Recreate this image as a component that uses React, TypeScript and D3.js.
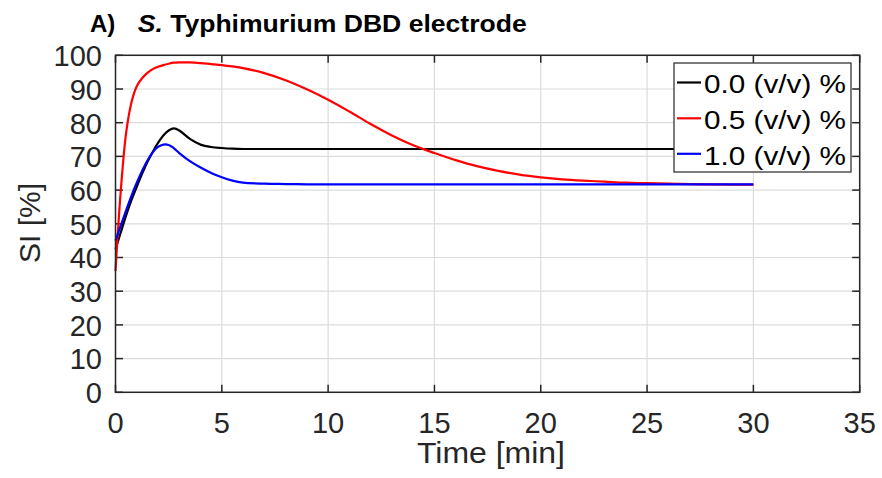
import React, { useEffect } from "react";
import * as d3 from "d3";

const times = [0, 0.25, 0.5, 0.75, 1, 1.25, 1.5, 1.75, 2, 2.25, 2.5, 2.75, 3, 3.5, 4, 4.5, 5, 5.5, 6, 7, 8, 9, 10, 11, 12, 13, 14, 15, 16, 17, 18, 19, 20, 21, 22, 23, 24, 25, 26, 27, 28, 29, 30];

const series00 = [42.5, 47.5, 52.5, 57, 61, 64.8, 68.3, 71.3, 74, 76.2, 77.7, 78.3, 77.7, 75.2, 73.5, 72.8, 72.5, 72.3, 72.2, 72.2, 72.2, 72.2, 72.2, 72.2, 72.2, 72.2, 72.2, 72.2, 72.2, 72.2, 72.2, 72.2, 72.2, 72.2, 72.2, 72.2, 72.2, 72.2, 72.2, 72.2, 72.2, 72.2, 72.2];
const series05 = [36, 60, 77, 86, 90.8, 93.2, 94.8, 95.9, 96.6, 97.1, 97.5, 97.8, 97.9, 97.9, 97.7, 97.4, 97.1, 96.7, 96.2, 94.7, 92.6, 89.9, 86.8, 83.3, 79.6, 76.2, 73.3, 71.0, 68.9, 67.1, 65.7, 64.6, 63.8, 63.2, 62.8, 62.5, 62.2, 62.05, 61.9, 61.8, 61.7, 61.65, 61.6];
const series10 = [45, 49.5, 54, 58.3, 62.2, 65.7, 68.8, 71.2, 72.8, 73.5, 73.4, 72.4, 71.0, 68.6, 66.7, 65.1, 63.8, 62.8, 62.2, 61.9, 61.8, 61.7, 61.7, 61.7, 61.7, 61.7, 61.7, 61.7, 61.7, 61.7, 61.7, 61.7, 61.7, 61.7, 61.7, 61.7, 61.7, 61.7, 61.7, 61.7, 61.7, 61.7, 61.7];

const seriesNames = ["0.0 (v/v) %", "0.5 (v/v) %", "1.0 (v/v) %"];
const seriesColors = ["#000000", "#ff0000", "#0000ff"];
const xTicks = [0, 5, 10, 15, 20, 25, 30, 35];
const yTicks = [0, 10, 20, 30, 40, 50, 60, 70, 80, 90, 100];

const W = 882;
const H = 478;
const L = 115.5, R = 859.7, T = 55.3, B = 392.3;
const AX = "#262626";
const FONT = "'Liberation Sans', Arial, Helvetica, sans-serif";

export default function App() {
  useEffect(() => {
    document.body.style.margin = "0";
  }, []);

  const x = d3.scaleLinear().domain([0, 35]).range([L, R]);
  const y = d3.scaleLinear().domain([0, 100]).range([B, T]);
  const allSeries = [series00, series05, series10];
  const line = d3
    .line<number>()
    .x((_, i) => x(times[i]))
    .y((d) => y(d))
    .curve(d3.curveCatmullRom.alpha(0.5));

  const legendX = 674, legendY = 63, legendW = 177, legendH = 109;
  const rowY = [82.5, 118.3, 153.8];

  return (
    <svg width={W} height={H} style={{ display: "block", background: "#fff" }} fontFamily={FONT}>
      <rect x={0} y={0} width={W} height={H} fill="#fff" />
      {/* grid */}
      {xTicks.map((t) => (
        <line key={"gx" + t} x1={x(t)} x2={x(t)} y1={T} y2={B} stroke="#dcdcdc" strokeWidth={1.2} />
      ))}
      {yTicks.map((t) => (
        <line key={"gy" + t} x1={L} x2={R} y1={y(t)} y2={y(t)} stroke="#dcdcdc" strokeWidth={1.2} />
      ))}
      {/* ticks */}
      {xTicks.map((t) => (
        <g key={"tx" + t}>
          <line x1={x(t)} x2={x(t)} y1={B} y2={B - 7.5} stroke={AX} strokeWidth={1.5} />
          <line x1={x(t)} x2={x(t)} y1={T} y2={T + 7.5} stroke={AX} strokeWidth={1.5} />
          <text x={x(t)} y={B + 41} fontSize={29} textAnchor="middle" fill={AX}>
            {t}
          </text>
        </g>
      ))}
      {yTicks.map((t) => (
        <g key={"ty" + t}>
          <line x1={L} x2={L + 7.5} y1={y(t)} y2={y(t)} stroke={AX} strokeWidth={1.5} />
          <line x1={R} x2={R - 7.5} y1={y(t)} y2={y(t)} stroke={AX} strokeWidth={1.5} />
          <text x={102} y={y(t) + 10.8} fontSize={29} textAnchor="end" fill={AX}>
            {t}
          </text>
        </g>
      ))}
      {/* data */}
      {allSeries.map((s, i) => (
        <path key={"s" + i} d={line(s) || ""} fill="none" stroke={seriesColors[i]} strokeWidth={2.2} />
      ))}
      {/* box */}
      <rect x={L} y={T} width={R - L} height={B - T} fill="none" stroke={AX} strokeWidth={1.5} />
      {/* legend */}
      <rect x={legendX} y={legendY} width={legendW} height={legendH} fill="#fff" stroke={AX} strokeWidth={1.2} />
      {seriesNames.map((n, i) => (
        <g key={"lg" + i}>
          <line x1={677} x2={701} y1={rowY[i]} y2={rowY[i]} stroke={seriesColors[i]} strokeWidth={2.2} />
          <text x={704} y={rowY[i] + 10.8} fontSize={26} fill="#000" textLength={142} lengthAdjust="spacingAndGlyphs">
            {n}
          </text>
        </g>
      ))}
      {/* labels */}
      <text x={491} y={463} fontSize={29} textAnchor="middle" fill={AX} textLength={148} lengthAdjust="spacingAndGlyphs">
        Time [min]
      </text>
      <text transform="translate(40,223) rotate(-90)" fontSize={30} textAnchor="middle" fill={AX}>
        SI [%]
      </text>
      <text x={90} y={31.7} fontSize={24} fontWeight="bold" fill="#000">
        A)
      </text>
      <text x={137.7} y={31.7} fontSize={24} fontWeight="bold" fill="#000" textLength={389} lengthAdjust="spacingAndGlyphs">
        <tspan fontStyle="italic">S.</tspan> Typhimurium DBD electrode
      </text>
    </svg>
  );
}
